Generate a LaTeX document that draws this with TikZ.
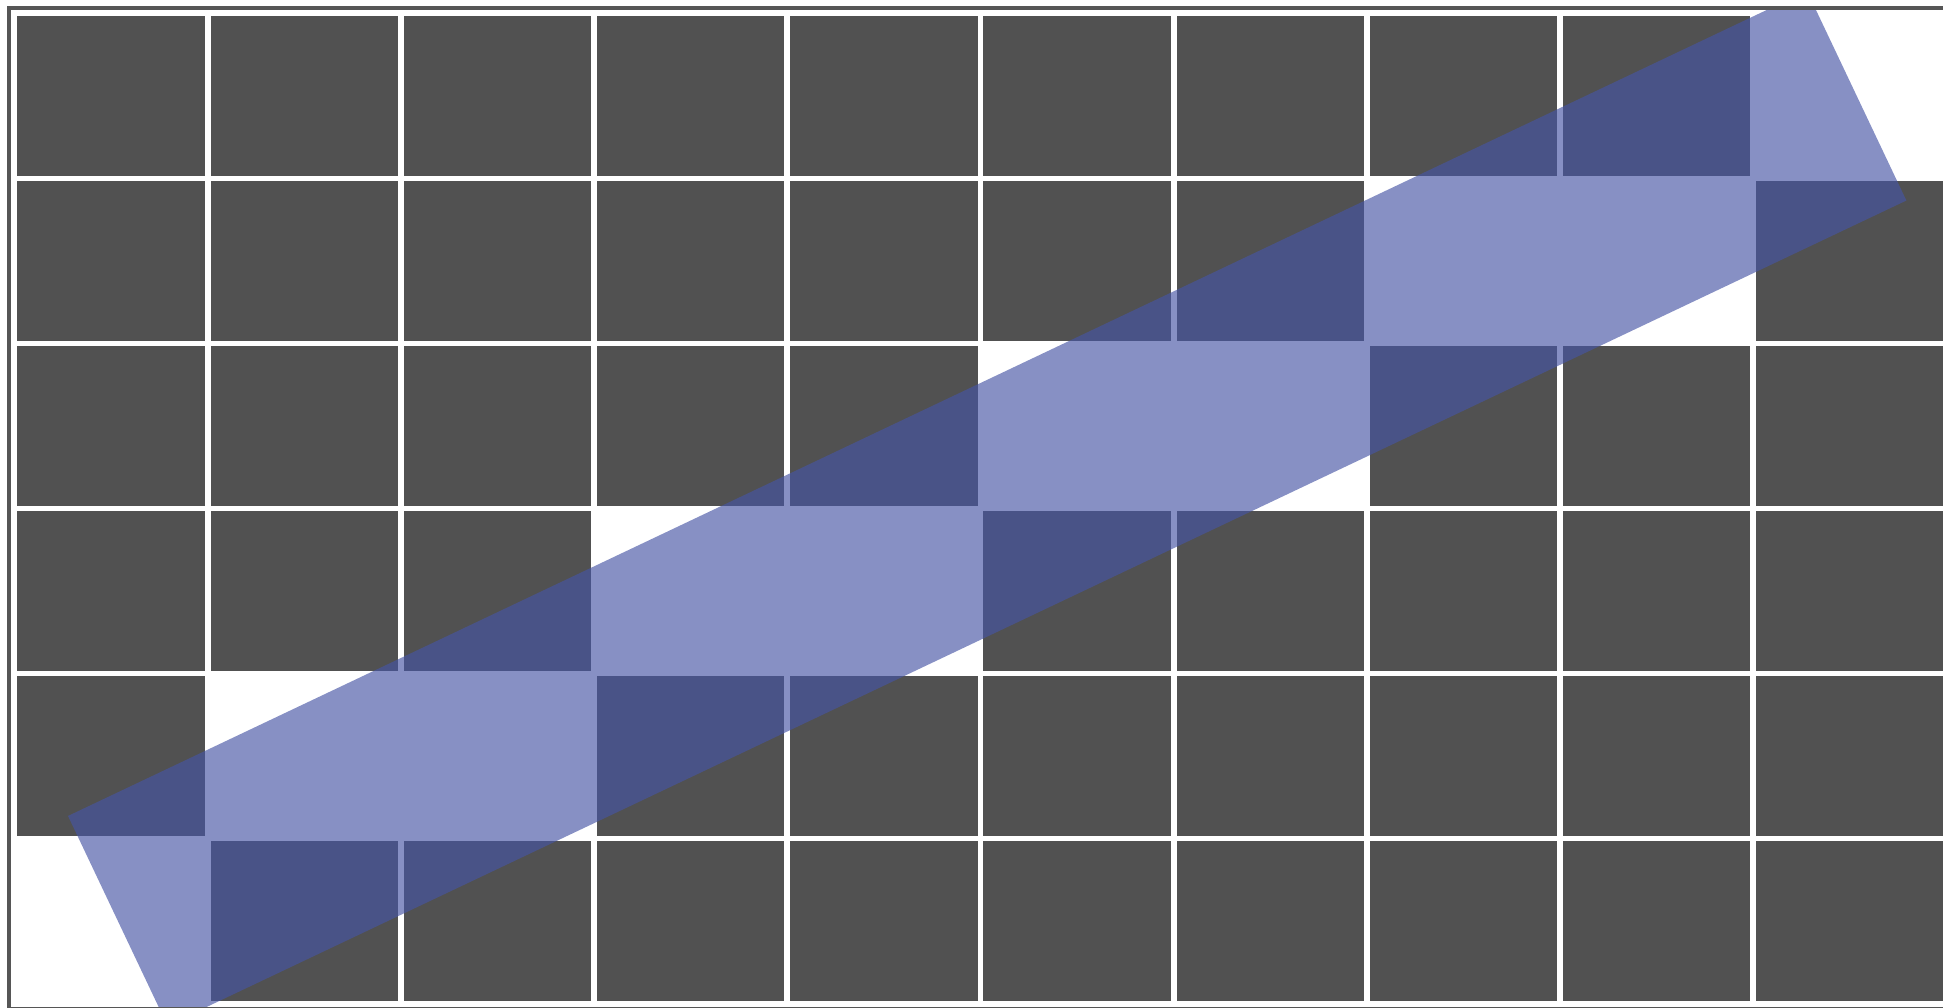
\documentclass[tikz,border=0pt]{standalone}
\usepackage{tikz}
\usetikzlibrary{calc}
\definecolor{pixgray}{HTML}{515151}
\definecolor{framegray}{HTML}{565656}
\definecolor{bandblue}{RGB}{70,85,165}
\tikzset{
  pixcell/.style={fill=pixgray},
  pixframe/.style={draw=framegray,line width=0.04cm},
  lineband/.style={draw=bandblue,draw opacity=0.65,line width=2.32cm}
}

\begin{document}
\begin{tikzpicture}[x=1.932cm,y=-1.65cm]
\useasboundingbox (-0.0895,-0.095) rectangle (9.967,6.008);
\begin{scope}
\clip (-0.055,-0.055) rectangle (10.2,6.1);
% dark pixels, the rasterised ones stay white
\foreach \c in {0,...,9}{
  \pgfmathtruncatemacro{\lit}{5-round(\c*5/9)}
  \foreach \r in {0,...,5}{
    \ifnum\r=\lit\else
      \fill[pixcell] (\c,\r) rectangle ++(0.97,0.97);
    \fi
  }
}
\coordinate (p0) at (0.52,5.485);
\coordinate (p1) at (9.52,0.485);
\draw[lineband] (p0) -- (p1);
\draw[pixframe] (-0.043,-0.0436) rectangle (10.2,6.022);
\end{scope}
\end{tikzpicture}
\end{document}
